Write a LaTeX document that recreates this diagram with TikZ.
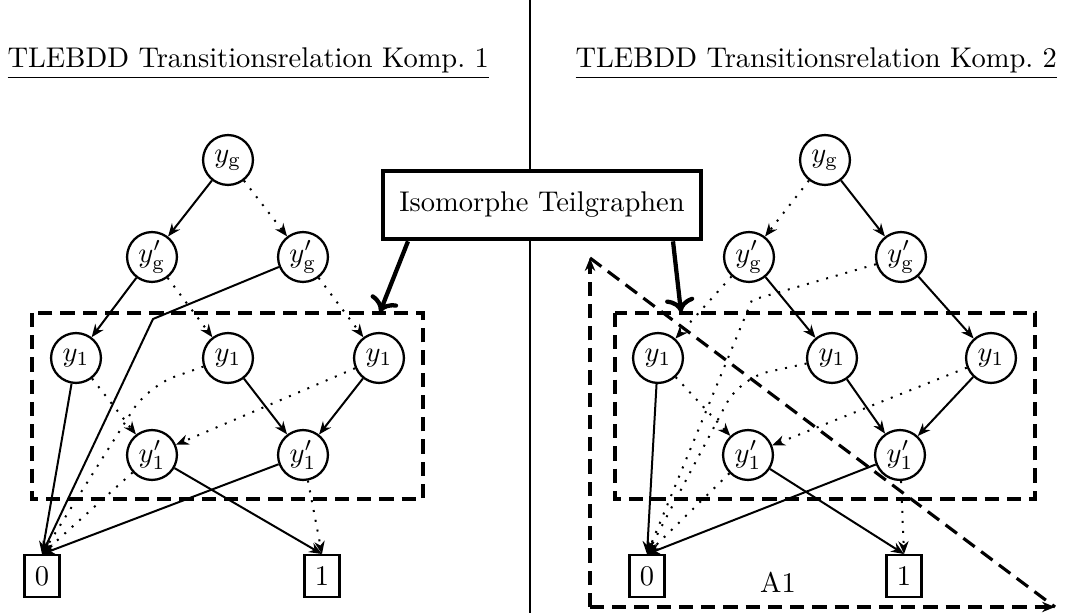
\documentclass[tikz,border=0pt]{standalone}
\usetikzlibrary{arrows.meta,calc}
\begin{document}
\begin{tikzpicture}[x=0.3509pt,y=-0.3509pt,
  bddnode/.style={circle,draw,line width=0.8pt,minimum size=17.5pt,inner sep=0pt},
  termnode/.style={rectangle,draw,line width=0.8pt,minimum width=12.2pt,minimum height=14.6pt,inner sep=0pt},
  hi/.style={-{Stealth[length=4.5pt,width=3.6pt]},line width=0.7pt},
  lo/.style={hi,dash pattern=on 0.7pt off 2.8pt},
  dashbox/.style={line width=1.1pt,dash pattern=on 5pt off 2.8pt},
  bigarrow/.style={->,line width=1.5pt},
  title/.style={anchor=base west,inner sep=0pt}]
\useasboundingbox (0,0) rectangle (1068,613);

% separator between the two components
\coordinate (sepTop) at (530,0);
\coordinate (sepBot) at (530,613);
\draw[line width=0.7pt] (sepTop) -- (sepBot);

% headings
\node[title] (titleL) at (7,68) {\underline{TLEBDD Transitionsrelation Komp.\ 1}};
\node[title] (titleR) at (575,68) {\underline{TLEBDD Transitionsrelation Komp.\ 2}};

% ---------- component 1 ----------
\node[bddnode] (gL)   at (228,160) {$y_{\mathrm{g}}$};
\node[bddnode] (gpL1) at (152,257) {$y'_{\mathrm{g}}$};
\node[bddnode] (gpL2) at (303,257) {$y'_{\mathrm{g}}$};
\node[bddnode] (aL1)  at (76,358)  {$y_1$};
\node[bddnode] (aL2)  at (228,358) {$y_1$};
\node[bddnode] (aL3)  at (379,358) {$y_1$};
\node[bddnode] (bL1)  at (152,455) {$y'_1$};
\node[bddnode] (bL2)  at (303,455) {$y'_1$};
\node[termnode] (zL)  at (42,576)  {0};
\node[termnode] (oL)  at (322,576) {1};
\coordinate (kL1) at (153,319);
\coordinate (kL2) at (148,386);

\draw[hi] (gL) -- (gpL1);
\draw[lo] (gL) -- (gpL2);
\draw[hi] (gpL1) -- (aL1);
\draw[lo] (gpL1) -- (aL2);
\draw[hi] (gpL2) -- (kL1) -- (zL.north);
\draw[lo] (gpL2) -- (aL3);
\draw[hi] (aL1) -- (zL.north);
\draw[lo] (aL1) -- (bL1);
\draw[hi] (aL2) -- (bL2);
\draw[lo,rounded corners=10pt] (aL2) -- (kL2) -- (zL.north);
\draw[hi] (aL3) -- (bL2);
\draw[lo] (aL3) -- (bL1);
\draw[hi] (bL1) -- (oL.north);
\draw[lo] (bL1) -- (zL.north);
\draw[hi] (bL2) -- (zL.north);
\draw[lo] (bL2) -- (oL.north);

\draw[dashbox] (32,313) rectangle (423,499);
\coordinate (boxL) at (380,312);

% ---------- component 2 ----------
\node[bddnode] (gR)   at (825,160) {$y_{\mathrm{g}}$};
\node[bddnode] (gpR1) at (749,257) {$y'_{\mathrm{g}}$};
\node[bddnode] (gpR2) at (901,257) {$y'_{\mathrm{g}}$};
\node[bddnode] (aR1)  at (658,358) {$y_1$};
\node[bddnode] (aR2)  at (832,358) {$y_1$};
\node[bddnode] (aR3)  at (991,358) {$y_1$};
\node[bddnode] (bR1)  at (748,455) {$y'_1$};
\node[bddnode] (bR2)  at (900,455) {$y'_1$};
\node[termnode] (zR)  at (647,576) {0};
\node[termnode] (oR)  at (904,576) {1};
\coordinate (kR1) at (752,300);
\coordinate (kR2) at (740,378);

\draw[lo] (gR) -- (gpR1);
\draw[hi] (gR) -- (gpR2);
\draw[hi] (gpR1) -- (aR2);
\draw[lo] (gpR1) -- (aR1);
\draw[hi] (gpR2) -- (aR3);
\draw[lo] (gpR2) -- (kR1) -- (zR.north);
\draw[hi] (aR1) -- (zR.north);
\draw[lo] (aR1) -- (bR1);
\draw[hi] (aR2) -- (bR2);
\draw[lo,rounded corners=10pt] (aR2) -- (kR2) -- (zR.north);
\draw[hi] (aR3) -- (bR2);
\draw[lo] (aR3) -- (bR1);
\draw[hi] (bR1) -- (oR.north);
\draw[lo] (bR1) -- (zR.north);
\draw[hi] (bR2) -- (zR.north);
\draw[lo] (bR2) -- (oR.north);

\draw[dashbox] (615,313) rectangle (1035,499);
\coordinate (boxR) at (681,312);

% region A1
\coordinate (triC) at (590,607);
\coordinate (triT) at (590,258);
\coordinate (triR) at (1055,607);
\draw[dashbox,-{Stealth[length=4.5pt,width=3.6pt]}] (triC) -- (triT);
\draw[dashbox,-{Stealth[length=4.5pt,width=3.6pt]}] (triC) -- (triR);
\draw[dashbox] (triT) -- (triR);
\node[anchor=base] (areaA) at (778,593) {A1};

% annotation box
\node[draw,fill=white,line width=1.5pt,minimum width=111.5pt,minimum height=24pt,inner sep=0pt]
  (iso) at (542,205) {Isomorphe Teilgraphen};
\draw[bigarrow] ($(iso.south west)+(27,0)$) -- (boxL);
\draw[bigarrow] ($(iso.south east)+(-30,0)$) -- (boxR);
\end{tikzpicture}
\end{document}
